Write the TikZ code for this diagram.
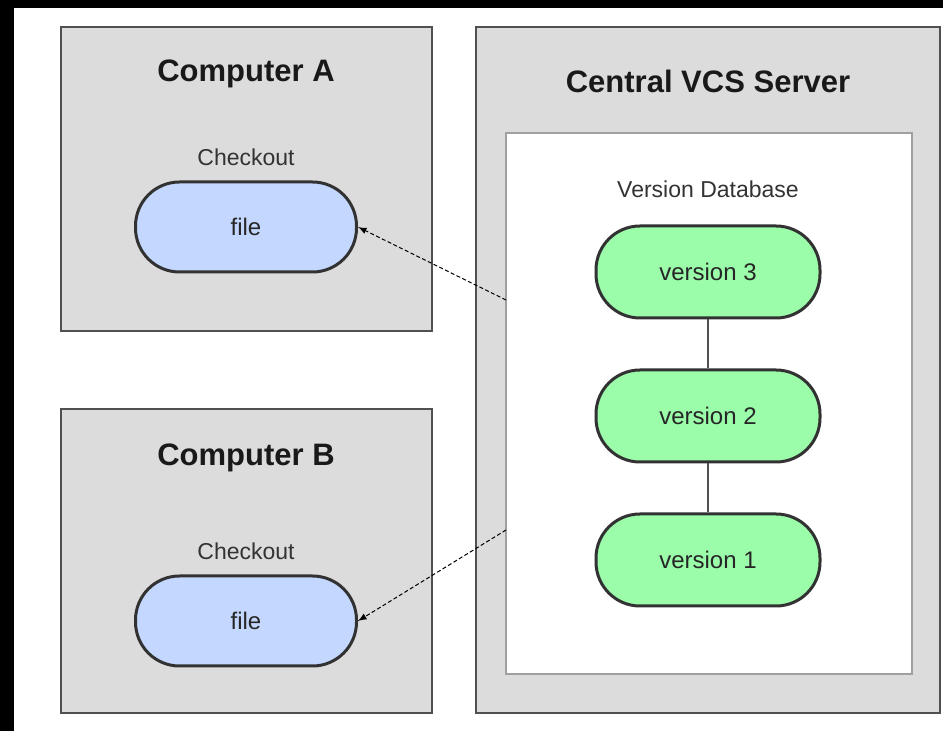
\documentclass[tikz,border=0pt]{standalone}
\usepackage{fontspec}
\setmainfont{Liberation Sans}
\usetikzlibrary{positioning}
\definecolor{boxgray}{RGB}{220,220,220}
\definecolor{edgegray}{RGB}{80,80,80}
\definecolor{innergray}{RGB}{160,160,160}
\definecolor{pillline}{RGB}{50,50,50}
\definecolor{fileblue}{RGB}{196,216,255}
\definecolor{vergreen}{RGB}{155,253,170}
\tikzset{
    machine/.style={
        draw = edgegray, line width = 1pt,
        fill = boxgray, inner sep = 0pt
    },
    store/.style={
        draw = innergray, line width = 1pt,
        fill = white, inner sep = 0pt
    },
    pill/.style={
        draw = pillline, line width = 1.5pt,
        rounded corners = 22pt,
        minimum width = 112pt, minimum height = 46pt,
        text = black!85,
        font = \fontsize{12}{14}\selectfont
    },
    filepill/.style = {pill, fill = fileblue, minimum width = 110.5pt, minimum height = 45pt},
    verpill/.style = {pill, fill = vergreen},
    title/.style = {anchor = base, text = black!90, font = \bfseries\fontsize{15.5}{18}\selectfont},
    caption/.style = {text = black!80, font = \fontsize{11.5}{14}\selectfont},
    link/.style = {draw = edgegray, line width = 1pt},
    dashline/.style = {-latex, line width = 0.5pt, dash pattern = on 2pt off 1.2pt}
}

\begin{document}
\begin{tikzpicture}[x = 0.5pt, y = -0.5pt]

    % frame
    \fill[black] (0,0) rectangle (943,731);
    \fill[white] (14,8) rectangle (943,731);
    \useasboundingbox (0,0) rectangle (943,731);

    \node[machine, minimum width = 185.5pt, minimum height = 152pt] (compA) at (246.5,179) {};
    \node[machine, minimum width = 185.5pt, minimum height = 152pt] (compB) at (246.5,561) {};
    \node[machine, minimum width = 232pt, minimum height = 343pt] (server) at (708,370) {};
    \node[store, minimum width = 203pt, minimum height = 270.5pt] (vdb) at (709,403.5) {};

    \node[title] (titleA) at (246,82) {Computer A};
    \node[title] (titleB) at (246,466) {Computer B};
    \node[title] (titleS) at (708,93) {Central VCS Server};

    \node[filepill] (fileA) at (246,227) {file};
    \node[filepill] (fileB) at (246,621) {file};
    \node[caption, above = 4pt of fileA] (coA) {Checkout};
    \node[caption, above = 4pt of fileB] (coB) {Checkout};

    \node[verpill] (ver3) at (708,272) {version 3};
    \node[verpill, below = 24.5pt of ver3] (ver2) {version 2};
    \node[verpill, below = 24.5pt of ver2] (ver1) {version 1};
    \node[caption, above = 10pt of ver3] (vdbname) {Version Database};

    \draw[link] (ver3) -- (ver2);
    \draw[link] (ver2) -- (ver1);

    \coordinate (outA) at (506,300);
    \coordinate (outB) at (506,530);
    \draw[dashline] (outA) -- (fileA.east);
    \draw[dashline] (outB) -- (fileB.east);

\end{tikzpicture}
\end{document}
